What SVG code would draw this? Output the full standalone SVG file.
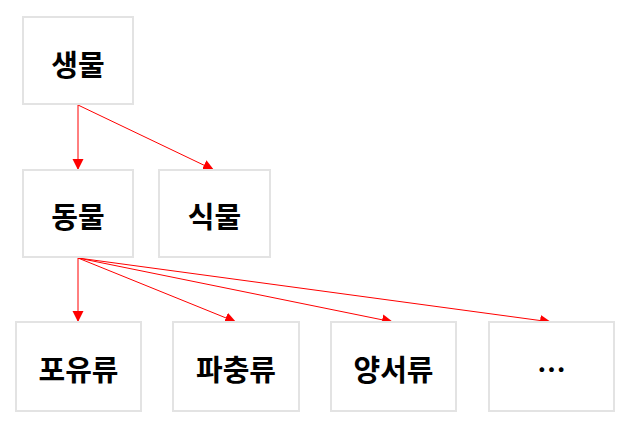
<svg xmlns="http://www.w3.org/2000/svg" width="628" height="424" viewBox="0 0 628 424">
<style>
.box{fill:#fff;stroke:#e3e3e3;stroke-width:2}
.lbl{font-family:"Noto Sans CJK KR","Noto Sans",sans-serif;font-size:29px;font-weight:bold;fill:#000;text-anchor:middle;dominant-baseline:central}
.edge{stroke:#ff0000;stroke-width:1;fill:none;marker-end:url(#ah)}
</style>
<defs>
<marker id="ah" markerUnits="userSpaceOnUse" markerWidth="12" markerHeight="12" viewBox="0 0 12 12" refX="11" refY="6" orient="auto">
<path d="M0,0.5 L11,6 L0,11.5 Z" fill="#ff0000"/>
</marker>
</defs>
<rect width="628" height="424" fill="#fff"/>
<g id="connectors">
<line class="edge" x1="78" y1="105" x2="78" y2="170"/>
<line class="edge" x1="78" y1="105" x2="214" y2="170"/>
<line class="edge" x1="78" y1="258" x2="78" y2="322"/>
<line class="edge" x1="78" y1="258" x2="236" y2="322"/>
<line class="edge" x1="78" y1="258" x2="393" y2="322"/>
<line class="edge" x1="78" y1="258" x2="551" y2="322"/>
</g>
<g id="n-saengmul"><rect class="box" x="23" y="17" width="110" height="87"/><text class="lbl" x="78" y="63">생물</text></g>
<g id="n-dongmul"><rect class="box" x="23" y="170" width="110" height="87"/><text class="lbl" x="78" y="215">동물</text></g>
<g id="n-sikmul"><rect class="box" x="159" y="170" width="111" height="87"/><text class="lbl" x="214.5" y="215">식물</text></g>
<g id="n-poyuryu"><rect class="box" x="16" y="322" width="125" height="89"/><text class="lbl" x="78.5" y="368">포유류</text></g>
<g id="n-pachungryu"><rect class="box" x="173" y="322" width="126" height="89"/><text class="lbl" x="236" y="368">파충류</text></g>
<g id="n-yangseoryu"><rect class="box" x="331" y="322" width="125" height="89"/><text class="lbl" x="393.5" y="368">양서류</text></g>
<g id="n-etc"><rect class="box" x="489" y="322" width="125" height="89"/><text class="lbl" x="551.5" y="368">…</text></g>
</svg>
